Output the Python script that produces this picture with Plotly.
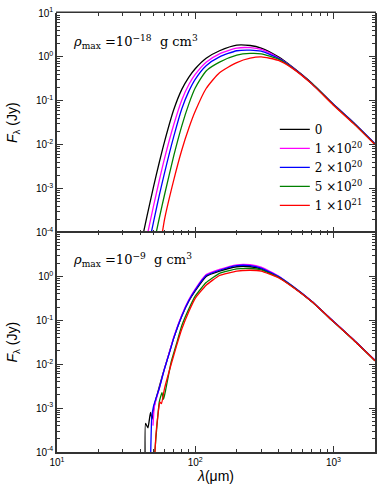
import numpy as np
import plotly.graph_objects as go
from plotly.subplots import make_subplots

# column densities (legend labels) and colours
labels = ["0", "1 ×10<sup>20</sup>", "2 ×10<sup>20</sup>", "5 ×10<sup>20</sup>", "1 ×10<sup>21</sup>"]
colors = ["#000000", "#ff00ff", "#0000ff", "#008000", "#ff0000"]

# top panel: rho_max = 1e-18, log10(F) on a shared wavelength grid (micron)
lam_top = [40, 45, 50, 55, 60, 70, 80, 90, 100, 120, 150, 200, 250, 300, 400, 500, 700, 1000, 1400, 2000]
top_black = [-4.35, -3.6, -2.95, -2.4, -1.93, -1.2, -0.74, -0.46, -0.27, -0.03, 0.14, 0.27, 0.26, 0.20, 0.0, -0.22, -0.6, -1.08, -1.5, -1.98]
top_magenta = [-4.9, -4.06, -3.39, -2.81, -2.31, -1.54, -0.98, -0.63, -0.40, -0.12, 0.07, 0.20, 0.21, 0.17, -0.02, -0.23, -0.61, -1.08, -1.5, -1.98]
top_blue = [-5.3, -4.45, -3.75, -3.15, -2.64, -1.81, -1.18, -0.78, -0.51, -0.20, 0.0, 0.14, 0.155, 0.13, -0.03, -0.23, -0.61, -1.08, -1.5, -1.98]
top_green = [-5.8, -5.0, -4.28, -3.67, -3.14, -2.25, -1.57, -1.07, -0.71, -0.32, -0.12, 0.04, 0.08, 0.07, -0.05, -0.24, -0.61, -1.09, -1.51, -1.99]
top_red = [-6.6, -6.0, -5.3, -4.45, -3.7, -2.8, -2.12, -1.62, -1.24, -0.72, -0.36, -0.13, -0.03, 0.0, -0.08, -0.25, -0.62, -1.1, -1.52, -2.0]

# bottom panel: rho_max = 1e-9, each curve has its own wavelength samples
bot_black_lam = [43.5, 43.7, 45.5, 47.5, 48.8, 50.5, 53, 58, 62, 66, 70, 80, 90, 100, 120, 150, 200, 250, 300, 400, 500, 700, 1000, 1400, 2000]
bot_black = [-4.5, -3.35, -3.45, -3.1, -3.25, -2.95, -2.7, -2.25, -1.95, -1.66, -1.4, -0.9, -0.56, -0.33, 0.0, 0.12, 0.22, 0.22, 0.17, -0.01, -0.22, -0.58, -1.03, -1.45, -1.92]
bot_magenta_lam = [49.5, 50.5, 52, 55, 60, 66, 70, 80, 90, 100, 120, 150, 200, 250, 300, 400, 500, 700, 1000, 1400, 2000]
bot_magenta = [-3.4, -3.0, -2.82, -2.55, -2.1, -1.66, -1.38, -0.88, -0.53, -0.29, 0.04, 0.16, 0.265, 0.265, 0.21, 0.01, -0.21, -0.57, -1.02, -1.44, -1.91]
bot_blue_lam = [47.3, 48.5, 50, 52, 55, 60, 66, 70, 80, 90, 100, 120, 150, 200, 250, 300, 400, 500, 700, 1000, 1400, 2000]
bot_blue = [-4.5, -3.2, -2.95, -2.78, -2.55, -2.1, -1.68, -1.4, -0.9, -0.55, -0.31, 0.02, 0.14, 0.245, 0.245, 0.19, 0.0, -0.21, -0.57, -1.02, -1.44, -1.91]
bot_green_lam = [51, 55, 57.5, 59, 61, 67, 73, 80, 90, 100, 120, 150, 200, 250, 300, 400, 500, 700, 1000, 1400, 2000]
bot_green = [-4.0, -2.85, -2.65, -2.8, -2.6, -1.95, -1.55, -1.12, -0.74, -0.45, -0.14, 0.07, 0.17, 0.18, 0.15, -0.02, -0.22, -0.58, -1.03, -1.45, -1.92]
bot_red_lam = [50.3, 52, 54, 55.5, 57, 60, 67, 73, 80, 90, 100, 120, 150, 200, 250, 300, 400, 500, 700, 1000, 1400, 2000]
bot_red = [-4.5, -3.6, -3.1, -2.86, -2.9, -2.55, -2.0, -1.6, -1.2, -0.8, -0.5, -0.2, 0.02, 0.12, 0.14, 0.12, -0.03, -0.23, -0.58, -1.03, -1.45, -1.92]

top_series = [top_black, top_magenta, top_blue, top_green, top_red]
bot_series = [(bot_black_lam, bot_black), (bot_magenta_lam, bot_magenta), (bot_blue_lam, bot_blue),
              (bot_green_lam, bot_green), (bot_red_lam, bot_red)]

# axis ticks
xt_vals = [10, 100, 1000]
xt_text = ["10<sup>1</sup>", "10<sup>2</sup>", "10<sup>3</sup>"]
x_minor = [m * d for d in (10, 100) for m in range(2, 10)] + [2000]
yt_vals = [1e-4, 1e-3, 1e-2, 1e-1, 1, 10]
yt_text = ["10<sup>-4</sup>", "10<sup>-3</sup>", "10<sup>-2</sup>", "10<sup>-1</sup>", "10<sup>0</sup>", "10<sup>1</sup>"]
y_minor = [m * d for d in (1e-4, 1e-3, 1e-2, 1e-1, 1) for m in range(2, 10)]

fig = make_subplots(rows=2, cols=1, shared_xaxes=True, vertical_spacing=0)

for lab, col, logf in zip(labels, colors, top_series):
    fig.add_trace(go.Scatter(
        x=lam_top, y=np.power(10.0, logf), mode="lines", name=lab,
        line=dict(color=col, width=1.3, shape="spline", smoothing=0.6),
    ), row=1, col=1)

for lab, col, (lam, logf) in zip(labels, colors, bot_series):
    fig.add_trace(go.Scatter(
        x=lam, y=np.power(10.0, logf), mode="lines", name=lab, showlegend=False,
        line=dict(color=col, width=1.3, shape="spline", smoothing=0.4),
    ), row=2, col=1)

frame = "#333333"
tick_font = dict(family="Liberation Sans, Arial", size=10, color="black")
axis_common = dict(
    type="log", showline=True, linecolor=frame, linewidth=1.5, mirror="allticks",
    ticks="inside", ticklen=6, tickcolor=frame, showgrid=False, zeroline=False,
    tickfont=tick_font, automargin=False,
)

fig.update_xaxes(**axis_common, range=[1, np.log10(2000)], tickvals=xt_vals, ticktext=xt_text,
                 minor=dict(ticks="inside", ticklen=3, tickcolor=frame, showgrid=False,
                            tickmode="array", tickvals=x_minor))
# top panel: no own line (the lower panel's frame draws the shared edge), ticks kept
fig.update_xaxes(showticklabels=False, showline=False, row=1, col=1)
fig.update_xaxes(
    title=dict(text="<i>λ</i>(μm)", font=dict(family="Liberation Sans, Arial", size=14, color="black"), standoff=4),
    row=2, col=1,
)

ytitle = dict(text="<i>F</i><sub>λ</sub> (Jy)", font=dict(family="Liberation Sans, Arial", size=14, color="black"), standoff=15)
y_minor_cfg = dict(ticks="inside", ticklen=3, tickcolor=frame, showgrid=False, tickmode="array", tickvals=y_minor)
fig.update_yaxes(**axis_common, range=[-4, 1], tickvals=yt_vals, ticktext=yt_text, title=ytitle,
                 minor=y_minor_cfg, row=1, col=1)
fig.update_yaxes(**axis_common, range=[-4, 1], tickvals=yt_vals[:-1], ticktext=yt_text[:-1], title=ytitle,
                 minor=y_minor_cfg, row=2, col=1)

# top edge of the upper panel
fig.add_shape(type="line", xref="x domain", yref="y domain", x0=-0.003, x1=1.003, y0=1.0035, y1=1.0035,
              line=dict(color=frame, width=1.5), layer="above")

serif = dict(family="DejaVu Serif, Liberation Serif", size=13, color="black")
fig.add_annotation(xref="x domain", yref="y domain", x=0.045, y=0.87, xanchor="left", yanchor="middle",
                   showarrow=False, font=serif,
                   text="<i>ρ</i><sub>max</sub> =10<sup>−18</sup>  g cm<sup>3</sup>")
fig.add_annotation(xref="x2 domain", yref="y2 domain", x=0.045, y=0.875, xanchor="left", yanchor="middle",
                   showarrow=False, font=serif,
                   text="<i>ρ</i><sub>max</sub> =10<sup>−9</sup>  g cm<sup>3</sup>")

fig.update_layout(
    width=382, height=498,
    margin=dict(l=57, r=7, t=13, b=46),
    paper_bgcolor="white", plot_bgcolor="white",
    legend=dict(x=0.685, y=0.768, xanchor="left", yanchor="top", bgcolor="rgba(0,0,0,0)",
                font=dict(family="DejaVu Serif, Liberation Serif", size=12, color="black"),
                itemwidth=30, tracegroupgap=0),
)

# drop the page's default body margin so the figure sits at the window origin
fig.write_html("out.html", config={"displayModeBar": False},
               post_script="document.body.style.margin='0';")
